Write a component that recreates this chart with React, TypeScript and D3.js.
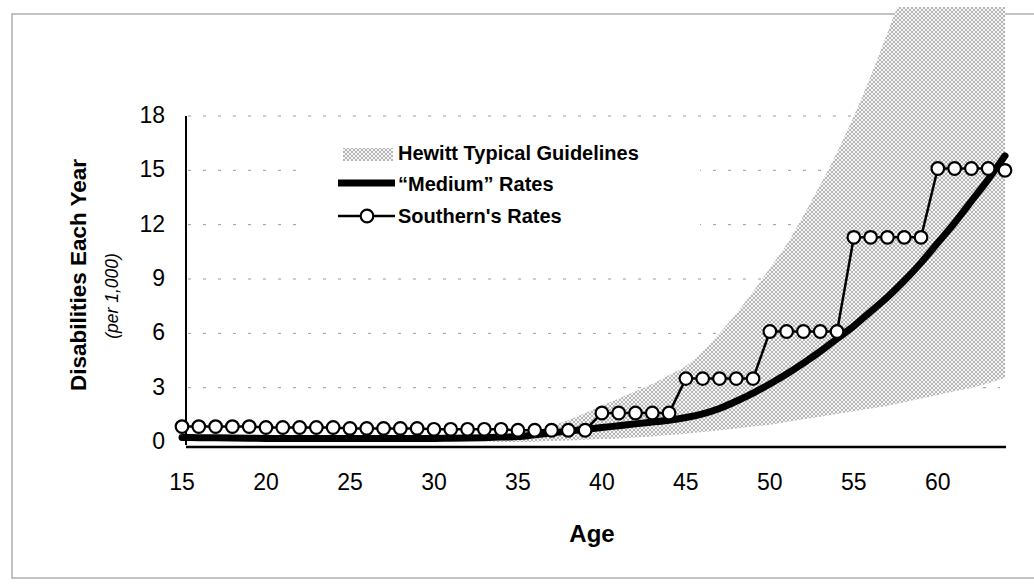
import React from "react";
import * as d3 from "d3";

// ---- data ----
const ages: number[] = d3.range(15, 65);
const southernRates: number[] = [
  0.85, 0.85, 0.85, 0.85, 0.85, // 15-19
  0.8, 0.8, 0.8, 0.8, 0.8, // 20-24
  0.75, 0.75, 0.75, 0.75, 0.75, // 25-29
  0.7, 0.7, 0.7, 0.7, 0.7, // 30-34
  0.65, 0.65, 0.65, 0.65, 0.65, // 35-39
  1.6, 1.6, 1.6, 1.6, 1.6, // 40-44
  3.5, 3.5, 3.5, 3.5, 3.5, // 45-49
  6.1, 6.1, 6.1, 6.1, 6.1, // 50-54
  11.3, 11.3, 11.3, 11.3, 11.3, // 55-59
  15.1, 15.1, 15.1, 15.1, 15.0, // 60-64
];
const mediumRates: number[] = [
  0.25, 0.24, 0.23, 0.22, 0.21, // 15-19
  0.2, 0.2, 0.2, 0.2, 0.2, // 20-24
  0.2, 0.2, 0.2, 0.2, 0.2, // 25-29
  0.2, 0.21, 0.22, 0.24, 0.27, // 30-34
  0.3, 0.4, 0.5, 0.6, 0.7, // 35-39
  0.8, 0.9, 1.0, 1.1, 1.2, // 40-44
  1.35, 1.55, 1.85, 2.25, 2.7, // 45-49
  3.2, 3.75, 4.35, 5.0, 5.7, // 50-54
  6.4, 7.2, 8.0, 8.9, 9.9, // 55-59
  11.0, 12.1, 13.3, 14.5, 15.8, // 60-64
];
const guideAges: number[] = d3.range(33, 65);
const guideUpper: number[] = [
  0.0, 0.1, 0.3, 0.6, 0.9, 1.2, 1.6, // 33-39
  2.0, 2.4, 2.8, 3.2, 3.7, // 40-44
  4.2, 5.0, 6.0, 7.1, 8.3, // 45-49
  9.6, 10.9, 12.5, 14.2, 16.0, // 50-54
  18.0, 20.2, 22.6, 25.0, 27.5, // 55-59
  30, 32.5, 35, 37.5, 40, // 60-64
];
const guideLower: number[] = [
  0, 0, 0, 0.02, 0.05, 0.08, 0.12, // 33-39
  0.16, 0.2, 0.25, 0.3, 0.38, // 40-44
  0.46, 0.55, 0.65, 0.75, 0.85, // 45-49
  0.95, 1.1, 1.25, 1.4, 1.55, // 50-54
  1.7, 1.85, 2.0, 2.2, 2.4, // 55-59
  2.6, 2.8, 3.0, 3.25, 3.55, // 60-64
];
const xTicks: number[] = [15, 20, 25, 30, 35, 40, 45, 50, 55, 60];
const yTicks: number[] = [0, 3, 6, 9, 12, 15, 18];
const legendLabels: string[] = [
  "Hewitt Typical Guidelines",
  "\u201CMedium\u201D Rates",
  "Southern's Rates",
];

const FONT = "'Liberation Sans', Arial, Helvetica, sans-serif";

export default function App() {
  const x = d3.scaleLinear().domain([15, 64]).range([182, 1005]);
  const y = d3.scaleLinear().domain([0, 18]).range([442, 116]);

  const area = d3
    .area<number>()
    .x((_, i) => x(guideAges[i]))
    .y0((_, i) => y(guideLower[i]))
    .y1((_, i) => y(guideUpper[i]))
    .curve(d3.curveMonotoneX);

  const mediumLine = d3
    .line<number>()
    .x((_, i) => x(ages[i]))
    .y((d) => y(d))
    .curve(d3.curveMonotoneX);

  const southernLine = d3
    .line<number>()
    .x((_, i) => x(ages[i]))
    .y((d) => y(d));

  const legendX = 338;
  const legendRows = [155, 186, 218];

  return (
    <svg
      width={1034}
      height={586}
      style={{ position: "absolute", left: 0, top: 0, background: "#fff" }}
      fontFamily={FONT}
    >
      <defs>
        <pattern id="hatch" width="4" height="4" patternUnits="userSpaceOnUse">
          <rect width="4" height="4" fill="#f6f6f6" />
          <path d="M0,0 L4,4 M4,0 L0,4" stroke="#999" strokeWidth="0.7" />
        </pattern>
        <clipPath id="plotClip">
          <rect x={178} y={7} width={836} height={440} />
        </clipPath>
      </defs>

      {/* frame */}
      <rect x={12} y={14} width={1040} height={564} fill="none" stroke="#9a9a9a" strokeWidth={1.2} />

      {/* gridlines */}
      {yTicks.filter((t) => t > 0).map((t) => (
        <line
          key={"g" + t}
          x1={188}
          x2={1000}
          y1={y(t)}
          y2={y(t)}
          stroke="#9a9a9a"
          strokeWidth={1}
          strokeDasharray="3 12"
        />
      ))}

      {/* legend background */}
      <rect x={300} y={138} width={400} height={96} fill="#fff" />

      {/* guideline area */}
      <g clipPath="url(#plotClip)">
        <path d={area(guideUpper) || ""} fill="url(#hatch)" stroke="none" />
      </g>

      {/* axes */}
      <line x1={186} x2={186} y1={116} y2={445} stroke="#000" strokeWidth={2} />
      <line x1={186} x2={1006} y1={447} y2={447} stroke="#000" strokeWidth={2.5} />

      {/* medium rates */}
      <path d={mediumLine(mediumRates) || ""} fill="none" stroke="#000" strokeWidth={7} strokeLinecap="round" />

      {/* southern's rates */}
      <path d={southernLine(southernRates) || ""} fill="none" stroke="#000" strokeWidth={2.5} />
      {southernRates.map((v, i) => (
        <circle key={"c" + i} cx={x(ages[i])} cy={y(v)} r={6.3} fill="#fff" stroke="#000" strokeWidth={2.2} />
      ))}

      {/* y tick labels */}
      {yTicks.map((t) => (
        <text key={"yt" + t} x={165} y={y(t) + 1} textAnchor="end" dominantBaseline="middle" fontSize={23} fill="#000">
          {t}
        </text>
      ))}

      {/* x tick labels */}
      {xTicks.map((t) => (
        <text key={"xt" + t} x={x(t)} y={490} textAnchor="middle" fontSize={23} fill="#000">
          {t}
        </text>
      ))}

      {/* axis titles */}
      <text x={592} y={542} textAnchor="middle" fontSize={24} fontWeight="bold" fill="#000">
        Age
      </text>
      <text
        transform="translate(86,275) rotate(-90)"
        textAnchor="middle"
        fontSize={22.5}
        fontWeight="bold"
        fill="#000"
      >
        Disabilities Each Year
      </text>
      <text
        transform="translate(118,296) rotate(-90)"
        textAnchor="middle"
        fontSize={17.5}
        fontStyle="italic"
        fill="#000"
      >
        (per 1,000)
      </text>

      {/* legend */}
      <rect x={343} y={legendRows[0] - 7} width={50} height={13} fill="url(#hatch)" />
      <line x1={legendX} x2={legendX + 57} y1={legendRows[1] - 3} y2={legendRows[1] - 3} stroke="#000" strokeWidth={7} />
      <line x1={legendX} x2={legendX + 57} y1={legendRows[2] - 2} y2={legendRows[2] - 2} stroke="#000" strokeWidth={2.5} />
      <circle cx={legendX + 29} cy={legendRows[2] - 2} r={6.3} fill="#fff" stroke="#000" strokeWidth={2.2} />
      {legendLabels.map((l, i) => (
        <text
          key={"l" + i}
          x={398}
          y={legendRows[i]}
          dominantBaseline="middle"
          fontSize={20}
          fontWeight="bold"
          fill="#000"
        >
          {l}
        </text>
      ))}
    </svg>
  );
}
